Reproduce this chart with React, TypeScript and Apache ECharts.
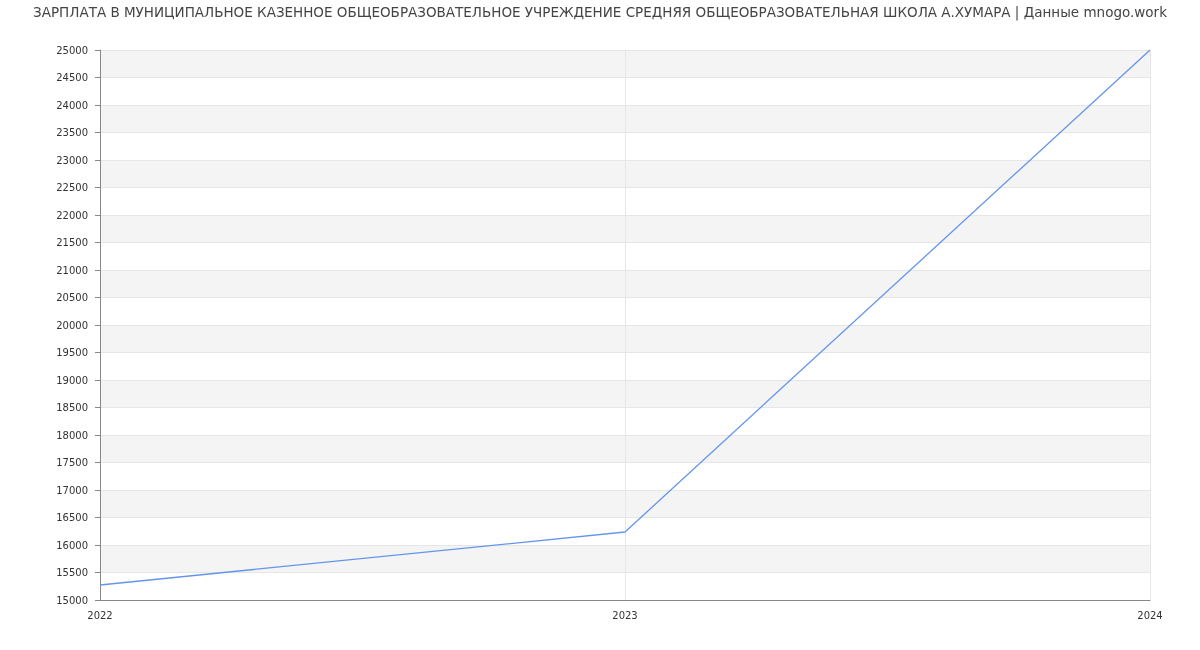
import React, { useEffect, useRef } from "react";
import * as echarts from "echarts";

const years = ["2022", "2023", "2024"];
const salary = [15273, 16236, 25000];
const titleText =
  "ЗАРПЛАТА В МУНИЦИПАЛЬНОЕ КАЗЕННОЕ ОБЩЕОБРАЗОВАТЕЛЬНОЕ УЧРЕЖДЕНИЕ СРЕДНЯЯ ОБЩЕОБРАЗОВАТЕЛЬНАЯ ШКОЛА А.ХУМАРА | Данные mnogo.work";

export default function App() {
  const ref = useRef<HTMLDivElement>(null);
  useEffect(() => {
    if (!ref.current) return;
    const chart = echarts.init(ref.current, undefined, { renderer: "svg" });
    chart.setOption({
      animation: false,
      textStyle: { fontFamily: "DejaVu Sans" },
      title: {
        text: titleText,
        left: "center",
        top: 0,
        textStyle: { fontSize: 13.5, fontWeight: "normal", color: "#444", fontFamily: "DejaVu Sans" },
      },
      grid: { left: 100, right: 50, top: 50, bottom: 50, containLabel: false },
      xAxis: {
        type: "category",
        data: years,
        boundaryGap: false,
        axisLine: { lineStyle: { color: "#888" } },
        axisTick: { show: false },
        axisLabel: { color: "#333", fontSize: 10, margin: 10 },
        splitLine: { show: true, lineStyle: { color: "#e6e6e6" } },
      },
      yAxis: {
        type: "value",
        min: 15000,
        max: 25000,
        interval: 500,
        axisLine: { show: true, lineStyle: { color: "#888" } },
        axisTick: { show: true, length: 5, lineStyle: { color: "#888" } },
        axisLabel: { color: "#333", fontSize: 10, margin: 12, formatter: (v: number) => String(v) },
        splitLine: { show: true, lineStyle: { color: "#e6e6e6" } },
        splitArea: { show: true, areaStyle: { color: ["#ffffff", "#f4f4f4"] } },
      },
      series: [
        {
          type: "line",
          data: salary,
          symbol: "none",
          lineStyle: { color: "#6495ED", width: 1.3 },
          itemStyle: { color: "#6495ED" },
        },
      ],
    });
    return () => chart.dispose();
  }, []);
  return (
    <div
      ref={ref}
      style={{ position: "fixed", left: 0, top: 0, width: 1200, height: 650 }}
    />
  );
}
